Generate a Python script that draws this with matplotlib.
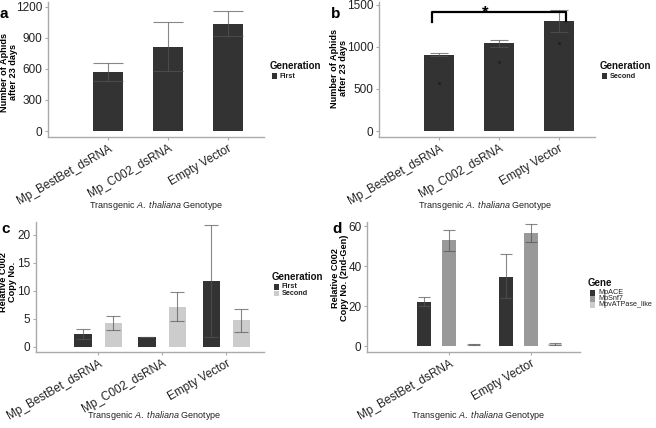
import numpy as np
import matplotlib
matplotlib.use("Agg")
import matplotlib.pyplot as plt
from matplotlib.patches import Rectangle

plt.rcParams['font.family'] = ['Liberation Sans', 'DejaVu Sans']
plt.rcParams['mathtext.fontset'] = 'custom'
plt.rcParams['mathtext.rm'] = 'Liberation Sans'
plt.rcParams['mathtext.it'] = 'Liberation Sans:italic'

# ---- data ----
genotypes = ['Mp_BestBet_dsRNA', 'Mp_C002_dsRNA', 'Empty Vector']

a_mean = [570, 815, 1040]
a_low = [480, 578, 920]
a_high = [660, 1050, 1165]

b_mean = [905, 1040, 1300]
b_low = [890, 1000, 1175]
b_high = [925, 1080, 1430]
b_points = [575, 815, 1040]

c_first = [2.2, 1.7, 11.8]
c_first_low = [1.3, 1.65, 1.8]
c_first_high = [3.1, 1.75, 21.7]
c_second = [4.2, 7.1, 4.7]
c_second_low = [3.0, 4.6, 2.6]
c_second_high = [5.4, 9.7, 6.8]

d_genotypes = ['Mp_BestBet_dsRNA', 'Empty Vector']
genes = ['MpACE', 'MpSnf7', 'MpvATPase_like']
d_mean = [[22.3, 34.8], [52.8, 56.3], [1.0, 1.2]]
d_low = [[20.0, 24.0], [47.5, 52.0], [0.7, 0.8]]
d_high = [[24.8, 45.8], [58.0, 60.8], [1.3, 1.6]]

W, H = 656, 428
DARK, MID, LIGHT = '#333333', '#999999', '#cccccc'
ERR = '#555555'
fig = plt.figure(figsize=(W / 100, H / 100), dpi=100)


def px_axes(left, right, top, bottom):
    return fig.add_axes([left / W, (H - bottom) / H, (right - left) / W, (bottom - top) / H])


def style(ax, yticks):
    for s in ['top', 'right']:
        ax.spines[s].set_visible(False)
    for s in ['left', 'bottom']:
        ax.spines[s].set_color('#aaaaaa')
        ax.spines[s].set_linewidth(1.0)
    ax.set_yticks(yticks)
    ax.tick_params(axis='both', colors='#aaaaaa', length=2.5, width=0.8,
                   labelcolor='#222222', labelsize=8.5, pad=1.5)
    plt.setp(ax.get_xticklabels(), rotation=30, ha='right', rotation_mode='anchor')


def err(ax, x, mean, low, high, cap):
    mean = np.asarray(mean)
    yerr = [mean - np.asarray(low), np.asarray(high) - mean]
    ax.errorbar(x, mean, yerr=yerr, fmt='none', ecolor=ERR, alpha=0.7,
                elinewidth=0.8, capsize=cap, capthick=0.8, zorder=3)


def legend(x, y, title, labels, colors, bold_items=True, step=6.5):
    fig.text(x / W, 1 - y / H, title, fontsize=7, fontweight='bold',
             va='center', ha='left', color='#111111')
    for i, (lab, col) in enumerate(zip(labels, colors)):
        yy = y + 10 + i * step
        fig.patches.append(Rectangle((x + 1.5, H - yy - 2.7), 5.4, 5.4,
                                     transform=None, facecolor=col, edgecolor='none'))
        fig.text((x + 10) / W, 1 - yy / H, lab, fontsize=5.2,
                 fontweight='bold' if bold_items else 'normal',
                 va='center', ha='left', color='#222222')


xlab = 'Transgenic $\\mathit{A.\\ thaliana}$ Genotype'
x3 = np.arange(1, 4)

# ---- panel a ----
ax = px_axes(48, 264, 2, 137)
ax.bar(x3, a_mean, width=0.5, color=DARK, zorder=2)
err(ax, x3, a_mean, a_low, a_high, 10.5)
ax.set_xlim(0, 3.6)
ax.set_ylim(-58, 1248)
ax.set_xticks(x3, genotypes)
style(ax, [0, 300, 600, 900, 1200])

# ---- panel b ----
ax = px_axes(379, 595, 2, 137)
ax.bar(x3, b_mean, width=0.5, color=DARK, zorder=2)
ax.scatter(x3, b_points, s=1.5, color='#222222', zorder=3)
err(ax, x3, b_mean, b_low, b_high, 6.5)
ax.plot([0.88, 0.88, 3.12, 3.12], [1292, 1407, 1407, 1304], color='black', lw=1.6,
        zorder=4, clip_on=False)
ax.text(1.77, 1400, '*', fontsize=12, ha='center', va='center', fontweight='bold')
ax.set_xlim(0, 3.6)
ax.set_ylim(-71, 1530)
ax.set_xticks(x3, genotypes)
style(ax, [0, 500, 1000, 1500])

# ---- panel c ----
ax = px_axes(36, 264, 222, 351.7)
off, bw = 0.235, 0.27
ax.bar(x3 - off, c_first, width=bw, color=DARK, zorder=2)
ax.bar(x3 + off, c_second, width=bw, color=LIGHT, zorder=2)
err(ax, x3 - off, c_first, c_first_low, c_first_high, 4.7)
err(ax, x3 + off, c_second, c_second_low, c_second_high, 4.7)
ax.set_xlim(0.03, 3.59)
ax.set_ylim(-0.9, 22.3)
ax.set_xticks(x3, genotypes)
style(ax, [0, 5, 10, 15, 20])

# ---- panel d ----
ax = px_axes(367, 580, 222, 351.7)
x2 = np.arange(1, 3)
gene_colors = [DARK, MID, LIGHT]
for i, (m, lo, hi) in enumerate(zip(d_mean, d_low, d_high)):
    xs = x2 + (i - 1) * 0.3
    ax.bar(xs, m, width=0.17, color=gene_colors[i], zorder=2)
    err(ax, xs, m, lo, hi, 4)
ax.set_xlim(0, 2.6)
ax.set_ylim(-2.7, 62)
ax.set_xticks(x2, d_genotypes)
style(ax, [0, 20, 40, 60])

# ---- axis titles ----
for (cx, cy) in [(156, 206), (485, 206), (154, 416), (478, 416)]:
    fig.text(cx / W, 1 - cy / H, xlab, fontsize=6.5, ha='center', va='center', color='#222222')

ylabels = [(9, 72, 'Number of Aphids\nafter 23 days'),
           (339, 68, 'Number of Aphids\nafter 23 days'),
           (8, 282, 'Relative C002\nCopy No.'),
           (340, 278, 'Relative C002\nCopy No. (2nd-Gen)')]
for cx, cy, t in ylabels:
    fig.text(cx / W, 1 - cy / H, t, fontsize=6.6, fontweight='bold', rotation=90,
             ha='center', va='center', multialignment='center', linespacing=1.1)

# ---- panel letters ----
for cx, cy, t in [(4, 14, 'a'), (336, 14, 'b'), (6, 229, 'c'), (337, 229, 'd')]:
    fig.text(cx / W, 1 - cy / H, t, fontsize=11, fontweight='bold', ha='center', va='center')

# ---- legends ----
legend(270, 66, 'Generation', ['First'], [DARK])
legend(600, 66, 'Generation', ['Second'], [DARK])
legend(272, 277, 'Generation', ['First', 'Second'], [DARK, LIGHT])
legend(588, 283, 'Gene', genes, gene_colors, bold_items=False, step=6.0)

fig.savefig('out.png', dpi=100)
